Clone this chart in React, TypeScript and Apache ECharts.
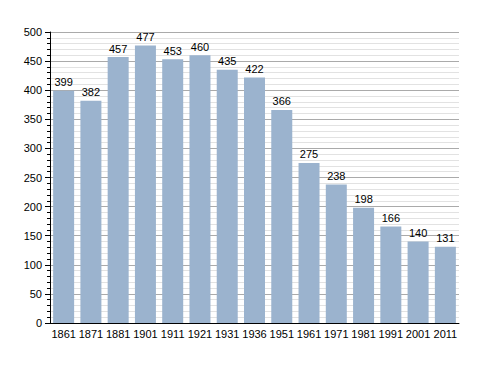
import React, { useEffect, useRef } from "react";
import * as echarts from "echarts";

const categories = ["1861", "1871", "1881", "1901", "1911", "1921", "1931", "1936", "1951", "1961", "1971", "1981", "1991", "2001", "2011"];
const population = [399, 382, 457, 477, 453, 460, 435, 422, 366, 275, 238, 198, 166, 140, 131];

export default function App() {
  const ref = useRef<HTMLDivElement>(null);
  useEffect(() => {
    if (!ref.current) return;
    const chart = echarts.init(ref.current, null, { renderer: "svg" });
    chart.setOption({
      animation: false,
      backgroundColor: "#ffffff",
      textStyle: { fontFamily: "Liberation Sans" },
      grid: { left: 50, right: 29, top: 32, bottom: 50 },
      xAxis: {
        type: "category",
        data: categories,
        axisLine: { lineStyle: { color: "#000", width: 1 } },
        axisTick: { show: false },
        axisLabel: { color: "#000", fontSize: 11, margin: 5, interval: 0, hideOverlap: false },
      },
      yAxis: {
        type: "value",
        min: 0,
        max: 500,
        interval: 50,
        axisLine: { show: true, lineStyle: { color: "#000", width: 1 } },
        axisTick: { show: true, length: 5, lineStyle: { color: "#000" } },
        minorTick: { show: true, splitNumber: 5, length: 3, lineStyle: { color: "#000" } },
        axisLabel: { color: "#000", fontSize: 11, margin: 8 },
        splitLine: { show: true, lineStyle: { color: "#aaaaaa", width: 1 } },
        minorSplitLine: { show: true, lineStyle: { color: "#e2e2e2", width: 1 } },
      },
      series: [
        {
          type: "bar",
          data: population,
          barWidth: 21,
          itemStyle: { color: "#9bb3ce" },
          label: { show: true, position: "top", color: "#000", fontSize: 11, distance: 3 },
        },
      ],
    });
    return () => chart.dispose();
  }, []);
  return <div ref={ref} style={{ width: 488, height: 373, margin: -8 }} />;
}
